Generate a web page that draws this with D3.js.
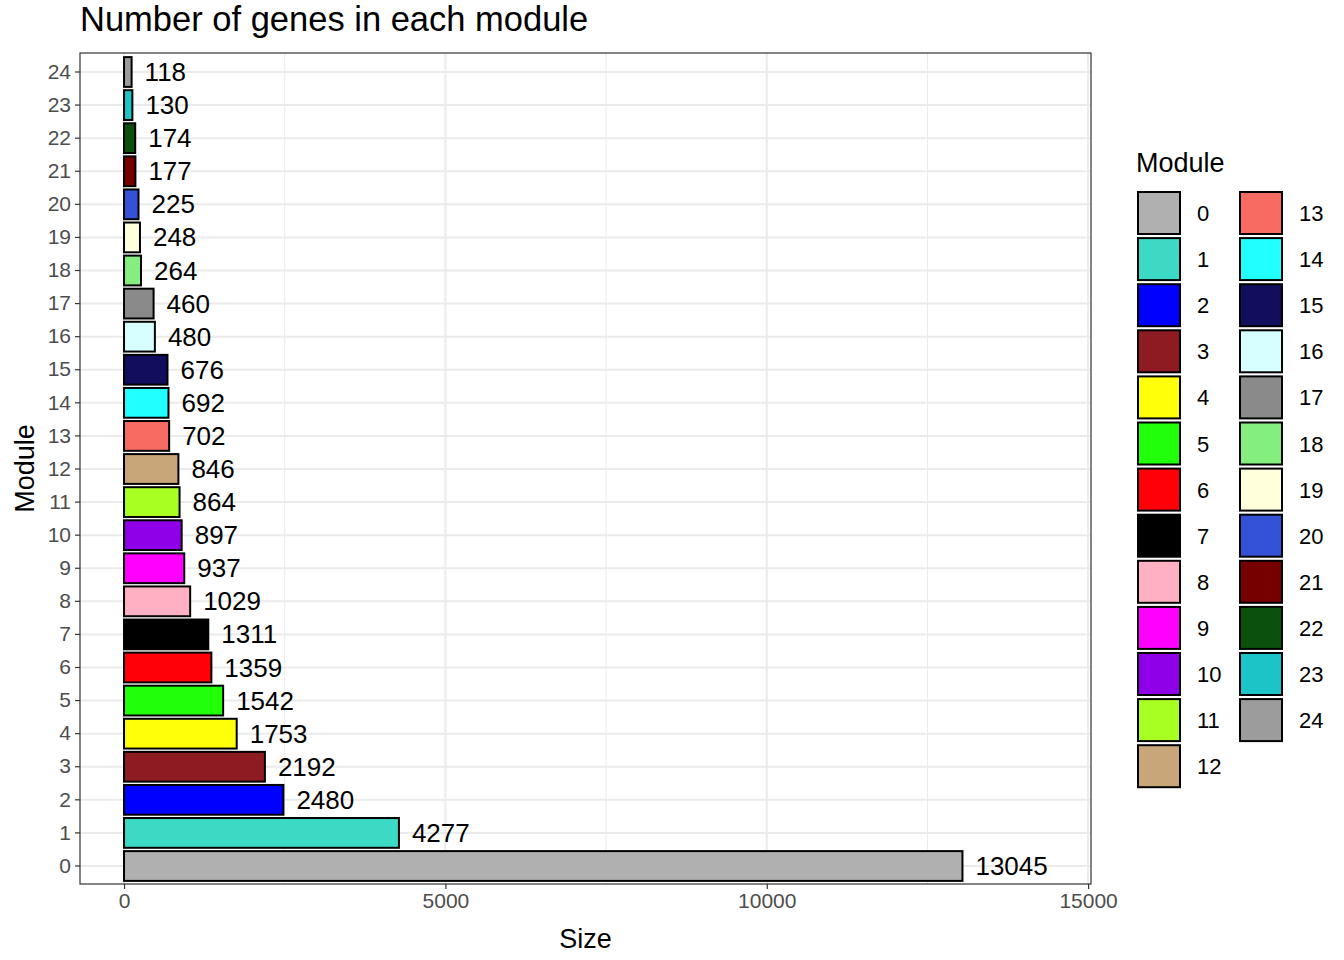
<!DOCTYPE html>
<html><head><meta charset="utf-8">
<script src="https://cdn.jsdelivr.net/npm/d3@7"></script>
<style>body{margin:0;background:#fff}text{font-family:"Liberation Sans",Arial,sans-serif}</style>
</head><body><svg id="c" width="1344" height="960"></svg>
<script>
// data
var modules = d3.range(25).map(String)
var sizes = [13045, 4277, 2480, 2192, 1753, 1542, 1359, 1311, 1029, 937, 897, 864, 846, 702, 692, 676, 480, 460, 264, 248, 225, 177, 174, 130, 118]
var colors = ['#b0b0b0', '#3cd9c4', '#0000ff', '#8f1b22', '#ffff0a', '#22ff0a', '#ff0008', '#000000', '#ffb0c3',
  '#ff00ff', '#8f00e8', '#a8ff22', '#c8a679', '#f76b62', '#22ffff', '#120e5e', '#d8ffff', '#8a8a8a',
  '#84ee7e', '#ffffdc', '#3452d8', '#760000', '#0b510b', '#1cc4c8', '#9c9c9c']
var xTicks = [0, 5000, 10000, 15000]

var svg = d3.select('#c')
var L = 80, R = 1091, T = 53, B = 884
var step = (866 - 72) / 24

var x = d3.scaleLinear().domain([-685, 15045]).range([L, R])
var y = d3.scaleBand().domain(modules).range([866 + step / 2, 72 - step / 2]).paddingInner(0.1).paddingOuter(0.05)

// grid
var g = svg.append('g')
g.selectAll('.mn').data([2500, 7500, 12500]).enter().append('line')
  .attr('x1', function (d) { return x(d) }).attr('x2', function (d) { return x(d) })
  .attr('y1', T).attr('y2', B).attr('stroke', '#ebebeb').attr('stroke-width', 1)
g.selectAll('.mj').data(xTicks).enter().append('line')
  .attr('x1', function (d) { return x(d) }).attr('x2', function (d) { return x(d) })
  .attr('y1', T).attr('y2', B).attr('stroke', '#ebebeb').attr('stroke-width', 2)
g.selectAll('.hy').data(modules).enter().append('line')
  .attr('x1', L).attr('x2', R)
  .attr('y1', function (d) { return y(d) + y.bandwidth() / 2 }).attr('y2', function (d) { return y(d) + y.bandwidth() / 2 })
  .attr('stroke', '#ebebeb').attr('stroke-width', 2)

// bars
svg.append('g').selectAll('rect').data(sizes).enter().append('rect')
  .attr('x', x(0)).attr('y', function (d, i) { return y(modules[i]) })
  .attr('width', function (d) { return x(d) - x(0) }).attr('height', y.bandwidth())
  .attr('fill', function (d, i) { return colors[i] }).attr('stroke', '#000').attr('stroke-width', 2)

svg.append('g').selectAll('text').data(sizes).enter().append('text')
  .attr('x', function (d) { return x(d) + 13 }).attr('y', function (d, i) { return y(modules[i]) + y.bandwidth() / 2 + 9 })
  .attr('font-size', 26).attr('fill', '#000').text(function (d) { return d })

svg.append('rect').attr('x', L).attr('y', T).attr('width', R - L).attr('height', B - T)
  .attr('fill', 'none').attr('stroke', '#333').attr('stroke-width', 1.2)

// axes
var xa = svg.append('g').attr('transform', 'translate(0,' + B + ')')
  .call(d3.axisBottom(x).tickValues(xTicks).tickSize(5).tickPadding(4).tickFormat(d3.format('d')))
var ya = svg.append('g').attr('transform', 'translate(' + L + ',0)')
  .call(d3.axisLeft(y).tickSize(5).tickPadding(4))
;[xa, ya].forEach(function (a) {
  a.select('.domain').remove()
  a.selectAll('line').attr('stroke', '#333').attr('stroke-width', 1.2)
  a.selectAll('text').attr('font-size', 21).attr('fill', '#4d4d4d').attr('font-family', '"Liberation Sans",Arial,sans-serif')
})

svg.append('text').attr('x', (L + R) / 2).attr('y', 948).attr('text-anchor', 'middle').attr('font-size', 27).text('Size')
svg.append('text').attr('transform', 'translate(26,' + (T + B) / 2 + ') rotate(-90)').attr('text-anchor', 'middle')
  .attr('dy', 8).attr('font-size', 27).text('Module')
svg.append('text').attr('x', 80).attr('y', 31).attr('font-size', 34.5).text('Number of genes in each module')

// legend
svg.append('text').attr('x', 1136).attr('y', 172).attr('font-size', 27).text('Module')
var lg = svg.append('g').selectAll('g').data(modules).enter().append('g')
  .attr('transform', function (d, i) {
    var col = i < 13 ? 0 : 1, row = i < 13 ? i : i - 13
    return 'translate(' + (1138 + col * 102) + ',' + (192 + row * 46.1) + ')'
  })
lg.append('rect').attr('width', 42).attr('height', 42)
  .attr('fill', function (d, i) { return colors[i] }).attr('stroke', '#000').attr('stroke-width', 2)
lg.append('text').attr('x', 59).attr('y', 29).attr('font-size', 22).text(function (d) { return d })
</script></body></html>
